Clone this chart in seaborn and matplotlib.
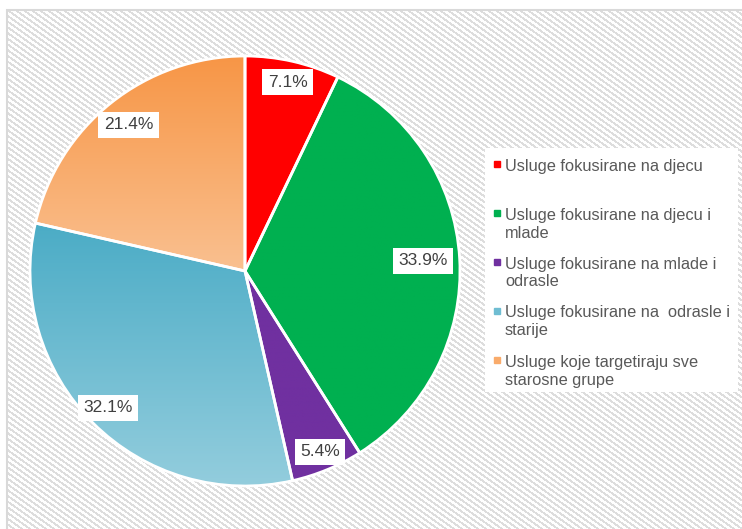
import numpy as np
import seaborn as sns
import matplotlib.pyplot as plt
from matplotlib.patches import Rectangle
from matplotlib.lines import Line2D

categories = ['Usluge fokusirane na djecu',
              'Usluge fokusirane na djecu i\nmlade',
              'Usluge fokusirane na mlade i\nodrasle',
              'Usluge fokusirane na  odrasle i\nstarije',
              'Usluge koje targetiraju sve\nstarosne grupe']
shares = [7.1, 33.9, 5.4, 32.1, 21.4]
pct_labels = ['7.1%', '33.9%', '5.4%', '32.1%', '21.4%']

# gradient top -> bottom per slice (solid ones have the same colour twice)
top_colors = ['#FF0000', '#00B050', '#7030A0', '#4BACC6', '#F79646']
bottom_colors = ['#FF0000', '#00B050', '#7030A0', '#93CDDD', '#FAC090']
legend_colors = ['#FF0000', '#00B050', '#7030A0', '#6FBDD2', '#F9AB6B']
label_dist = [0.90, 0.83, 0.91, 0.90, 0.87]

sns.set_theme(style='white')
plt.rcParams['font.family'] = ['Liberation Sans', 'DejaVu Sans']

W, H = 742, 529
fig = plt.figure(figsize=(W / 100, H / 100), dpi=100)
fig.patch.set_facecolor('white')


def fx(px):
    return px / W


def fy(py):
    return 1 - py / H


# hatched chart area background
bg = fig.add_axes([0, 0, 1, 1], zorder=0)
yy, xx = np.mgrid[0:H, 0:W]
img = np.ones((H, W, 3))
stripe = ((xx - 1.4 * yy) % 8) < 3.5
inside = (xx >= 8) & (yy >= 11)
img[stripe & inside] = [0.87, 0.87, 0.87]
bg.imshow(img, aspect='auto', interpolation='nearest')
bg.set_axis_off()
fig.add_artist(Rectangle((fx(7), -0.1), 1.2, fy(10) + 0.1, fill=False,
                         edgecolor='#d9d9d9', linewidth=1.5,
                         transform=fig.transFigure, zorder=1))

# pie
cx, cy, r, half = 245, 271, 215, 225
ax = fig.add_axes([fx(cx - half), fy(cy + half), 2 * half / W, 2 * half / H], zorder=2)
ax.set_facecolor('none')
wedges, _ = ax.pie(shares, startangle=90, counterclock=False, radius=1,
                   wedgeprops=dict(edgecolor='white', linewidth=2))
for w, top, bot in zip(wedges, top_colors, bottom_colors):
    ext = w.get_path().get_extents()
    cmap = sns.blend_palette([bot, top], as_cmap=True)
    grad = np.linspace(0, 1, 256).reshape(-1, 1)
    im = ax.imshow(grad, cmap=cmap, origin='lower', aspect='auto',
                   extent=[ext.x0, ext.x1, ext.y0, ext.y1], zorder=0.5)
    im.set_clip_path(w)
    w.set_facecolor('none')

for w, lab, d in zip(wedges, pct_labels, label_dist):
    ang = np.deg2rad((w.theta1 + w.theta2) / 2)
    ax.text(d * np.cos(ang), d * np.sin(ang), lab, ha='center', va='center',
            fontsize=12.5, color='#404040', zorder=5,
            bbox=dict(boxstyle='square,pad=0.32', fc='white', ec='none'))

lim = half / r
ax.set_xlim(-lim, lim)
ax.set_ylim(-lim, lim)
ax.set_axis_off()

# legend
fig.add_artist(Rectangle((fx(485), fy(392)), fx(738) - fx(485), fy(148) - fy(392),
                         facecolor='white', edgecolor='none',
                         transform=fig.transFigure, zorder=3))
y0, pitch, line_h = 165, 49, 18
for i, (lab, c) in enumerate(zip(categories, legend_colors)):
    yc = y0 + i * pitch
    fig.add_artist(Line2D([fx(497)], [fy(yc - 1)], marker='s', markersize=4.2,
                          color=c, linestyle='none',
                          transform=fig.transFigure, zorder=4))
    for j, line in enumerate(lab.split('\n')):
        fig.text(fx(505), fy(yc + 5.5 + j * line_h), line, ha='left',
                 va='baseline', fontsize=11.8, color='#595959', zorder=4)

fig.savefig('out.png', dpi=100)
